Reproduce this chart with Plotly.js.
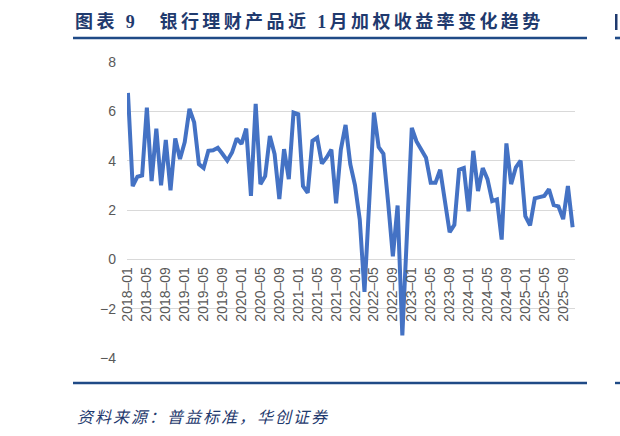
<!DOCTYPE html>
<html>
<head>
<meta charset="utf-8">
<script src="https://cdn.plot.ly/plotly-3.0.1.min.js"></script>
<style>
html,body{margin:0;padding:0;background:#fff;}
#chart{width:620px;height:436px;}
.gtitle{letter-spacing:3.4px;}
.annotation-text{letter-spacing:2px;}
</style>
</head>
<body>
<div id="chart"></div>
<script>
var months = [
"2018-01","2018-02","2018-03","2018-04","2018-05","2018-06","2018-07","2018-08","2018-09","2018-10","2018-11","2018-12",
"2019-01","2019-02","2019-03","2019-04","2019-05","2019-06","2019-07","2019-08","2019-09","2019-10","2019-11","2019-12",
"2020-01","2020-02","2020-03","2020-04","2020-05","2020-06","2020-07","2020-08","2020-09","2020-10","2020-11","2020-12",
"2021-01","2021-02","2021-03","2021-04","2021-05","2021-06","2021-07","2021-08","2021-09","2021-10","2021-11","2021-12",
"2022-01","2022-02","2022-03","2022-04","2022-05","2022-06","2022-07","2022-08","2022-09","2022-10","2022-11","2022-12",
"2023-01","2023-02","2023-03","2023-04","2023-05","2023-06","2023-07","2023-08","2023-09","2023-10","2023-11","2023-12",
"2024-01","2024-02","2024-03","2024-04","2024-05","2024-06","2024-07","2024-08","2024-09","2024-10","2024-11","2024-12",
"2025-01","2025-02","2025-03","2025-04","2025-05","2025-06","2025-07","2025-08","2025-09","2025-10","2025-11"
];
var yield1m = [
6.75,2.97,3.35,3.40,6.15,3.17,5.30,3.00,4.84,2.80,4.90,4.07,
4.75,6.10,5.55,3.86,3.70,4.40,4.42,4.52,4.27,4.00,4.33,4.90,
4.68,5.30,2.57,6.30,3.05,3.37,5.00,4.27,2.44,4.47,3.25,5.95,
5.88,2.97,2.70,4.80,4.93,3.88,4.13,4.45,2.27,4.45,5.45,3.86,
3.00,1.62,-1.32,2.20,5.95,4.55,4.28,2.30,0.12,2.18,-3.08,1.10,
5.33,4.78,4.42,4.12,3.10,3.10,3.63,2.30,1.10,1.40,3.63,3.70,
1.95,4.40,2.77,3.70,3.25,2.36,2.43,0.80,4.70,3.05,3.73,4.00,
1.75,1.38,2.47,2.52,2.57,2.84,2.20,2.15,1.63,2.97,1.30
];
var tickMonths = ["2018-01","2018-05","2018-09","2019-01","2019-05","2019-09","2020-01","2020-05","2020-09",
"2021-01","2021-05","2021-09","2022-01","2022-05","2022-09","2023-01","2023-05","2023-09",
"2024-01","2024-05","2024-09","2025-01","2025-05","2025-09"];
var tickText = tickMonths.map(function(s){return s.replace("-","\u2013");});
var yTicks = [-4,-2,0,2,4,6,8];

var titleText = "图表 9\u3000银行理财产品近 1月加权收益率变化趋势";
var sourceText = "资料来源：普益标准，华创证券";

var L = 127, R = 575, T = 62, B = 358;
function px(x){return (x - L)/(R - L);}
function py(y){return (B - y)/(B - T);}
var navy = "#1f4a86";

var trace = {
  x: months, y: yield1m, type: "scatter", mode: "lines",
  line: {color: "#4472C4", width: 4},
  hoverinfo: "skip"
};

var layout = {
  width: 620, height: 436,
  margin: {l: L, r: 620 - R, t: T, b: 436 - B, pad: 0},
  paper_bgcolor: "#fff", plot_bgcolor: "#fff",
  showlegend: false,
  title: {
    text: "<b>" + titleText + "</b>",
    xref: "container", yref: "container",
    x: 75/620, xanchor: "left",
    y: 1 - 21.5/436, yanchor: "middle",
    font: {family: "Liberation Serif, 'Noto Sans CJK SC', serif", size: 18, color: "#1f3a6e"}
  },
  xaxis: {
    type: "category",
    range: [-0.2, 94.5],
    tickmode: "array", tickvals: tickMonths, ticktext: tickText,
    tickangle: -90,
    tickfont: {family: "Liberation Sans, Arial, sans-serif", size: 14, color: "#595959"},
    anchor: "free", position: 1/3,
    showgrid: false, showline: false, zeroline: false, ticks: "",
    ticklabelstandoff: 4,
    fixedrange: true
  },
  yaxis: {
    range: [-4, 8],
    tickmode: "array", tickvals: yTicks,
    tickfont: {family: "Liberation Sans, Arial, sans-serif", size: 14, color: "#595959"},
    gridcolor: "#d9d9d9", gridwidth: 1,
    zeroline: false, showline: false, ticks: "",
    ticklabelstandoff: 10,
    fixedrange: true
  },
  shapes: [
    {type: "line", xref: "paper", yref: "paper", x0: px(73), x1: px(587), y0: py(38), y1: py(38), line: {color: navy, width: 2.6}},
    {type: "line", xref: "paper", yref: "paper", x0: px(73), x1: px(587), y0: py(383), y1: py(383), line: {color: navy, width: 2.4}},
    {type: "line", xref: "paper", yref: "paper", x0: px(615), x1: px(630), y0: py(38), y1: py(38), line: {color: navy, width: 2.6}},
    {type: "line", xref: "paper", yref: "paper", x0: px(615), x1: px(630), y0: py(383), y1: py(383), line: {color: navy, width: 2.4}},
    {type: "rect", xref: "paper", yref: "paper", x0: px(615), x1: px(617.5), y0: py(30), y1: py(14), line: {width: 0}, fillcolor: "#1f3a6e"}
  ],
  annotations: [
    {text: "<i>" + sourceText + "</i>", xref: "paper", yref: "paper",
     x: px(75), xanchor: "left", y: py(416), yanchor: "middle", showarrow: false,
     font: {family: "'Noto Sans CJK SC', sans-serif", size: 16, color: "#1f3a6e"}}
  ]
};

Plotly.newPlot("chart", [trace], layout, {displayModeBar: false, staticPlot: true});
</script>
</body>
</html>
